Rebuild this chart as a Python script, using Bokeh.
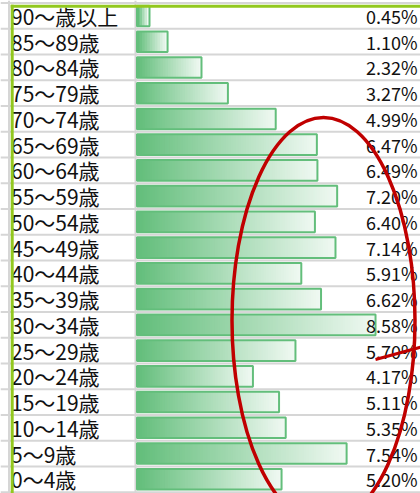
from bokeh.plotting import figure
from bokeh.models import Range1d
from bokeh.core.properties import value
from bokeh.embed import file_html
from bokeh.resources import INLINE

# ---- data ----
age_groups = ["90～歳以上", "85～89歳", "80～84歳", "75～79歳", "70～74歳",
              "65～69歳", "60～64歳", "55～59歳", "50～54歳", "45～49歳",
              "40～44歳", "35～39歳", "30～34歳", "25～29歳", "20～24歳",
              "15～19歳", "10～14歳", "5～9歳", "0～4歳"]
shares = [0.45, 1.10, 2.32, 3.27, 4.99, 6.47, 6.49, 7.20, 6.40, 7.14,
          5.91, 6.62, 8.58, 5.70, 4.17, 5.11, 5.35, 7.54, 5.20]
share_labels = [f"{v:.2f}%" for v in shares]

# ---- geometry (picture pixels -> data units) ----
W, H = 420, 493
PX_PER_PCT = 27.8
X0_PX = 136.5
ROW_H = 25.74
ROW0_C = 15.47
n = len(age_groups)

def px_x(p):
    return (p - X0_PX) / PX_PER_PCT

def px_y(p):
    return (n - 1) - (p - ROW0_C) / ROW_H

ys = [n - 1 - i for i in range(n)]

p = figure(width=W, height=H,
           x_range=Range1d(px_x(0), px_x(W)),
           y_range=Range1d(px_y(H), px_y(0)),
           output_backend="svg", toolbar_location=None,
           x_axis_location=None, y_axis_location=None,
           min_border=0, outline_line_color=None,
           background_fill_color="white", border_fill_color="white")
p.xgrid.grid_line_color = None
p.ygrid.grid_line_color = None

GRID = "#d6d6d6"
# horizontal cell borders (top of first row + bottom of each row)
hy = [ys[0] + 0.5] + [y - 0.5 for y in ys]
p.segment(x0=[px_x(0)] * len(hy), x1=[px_x(W + 1)] * len(hy),
          y0=hy, y1=hy, line_color=GRID, line_width=2)
# vertical cell borders
p.segment(x0=[px_x(8.5), px_x(135)], x1=[px_x(8.5), px_x(135)],
          y0=[px_y(H + 1)] * 2, y1=[px_y(0)] * 2,
          line_color=GRID, line_width=2)

# ---- gradient data bars (each slice runs to the bar end: no seams) ----
base = (0x63, 0xBE, 0x7B)
L, R, B, T, C = [], [], [], [], []
for v, y in zip(shares, ys):
    N = max(4, int(v * PX_PER_PCT / 2.5))
    for j in range(N):
        t = 0.9 * j / max(1, N - 1)
        col = tuple(int(round(c + t * (255 - c))) for c in base)
        L.append(v * j / N)
        R.append(v)
        B.append(y - 0.40)
        T.append(y + 0.40)
        C.append("#%02x%02x%02x" % col)
p.quad(left=L, right=R, bottom=B, top=T, fill_color=C, line_color=None)
p.quad(left=[0] * n, right=shares,
       bottom=[y - 0.40 for y in ys], top=[y + 0.40 for y in ys],
       fill_color=None, line_color="#63BE7B", line_width=2)

# ---- texts ----
TY = 0.0
p.text(x=[px_x(10.5)] * n, y=[y + TY for y in ys], text=age_groups,
       text_font=value("Noto Sans CJK JP"), text_font_size="21px",
       text_align="left", text_baseline="alphabetic", text_color="#111111")
p.text(x=[px_x(417)] * n, y=[y + TY for y in ys], text=share_labels,
       text_font=value("Noto Sans CJK JP"), text_font_size="18px",
       text_align="right", text_baseline="alphabetic", text_color="#111111")

# ---- selection border (green) ----
SEL = "#92C81E"
p.segment(x0=[px_x(11.7)], x1=[px_x(11.7)], y0=[px_y(H + 2)], y1=[px_y(4.2)],
          line_color=SEL, line_width=3)
p.segment(x0=[px_x(10.2)], x1=[px_x(W + 1)], y0=[px_y(5.8)], y1=[px_y(5.8)],
          line_color=SEL, line_width=3)

# ---- red hand-drawn ellipse ----
RED = "#C00000"
p.ellipse(x=[px_x(323)], y=[px_y(320)], width=183, height=406,
          width_units="screen", height_units="screen",
          fill_color=None, line_color=RED, line_width=3.5)
p.segment(x0=[px_x(375)], y0=[px_y(359)], x1=[px_x(421)], y1=[px_y(346.5)],
          line_color=RED, line_width=3)

open("out.html", "w").write(file_html(p, INLINE))
